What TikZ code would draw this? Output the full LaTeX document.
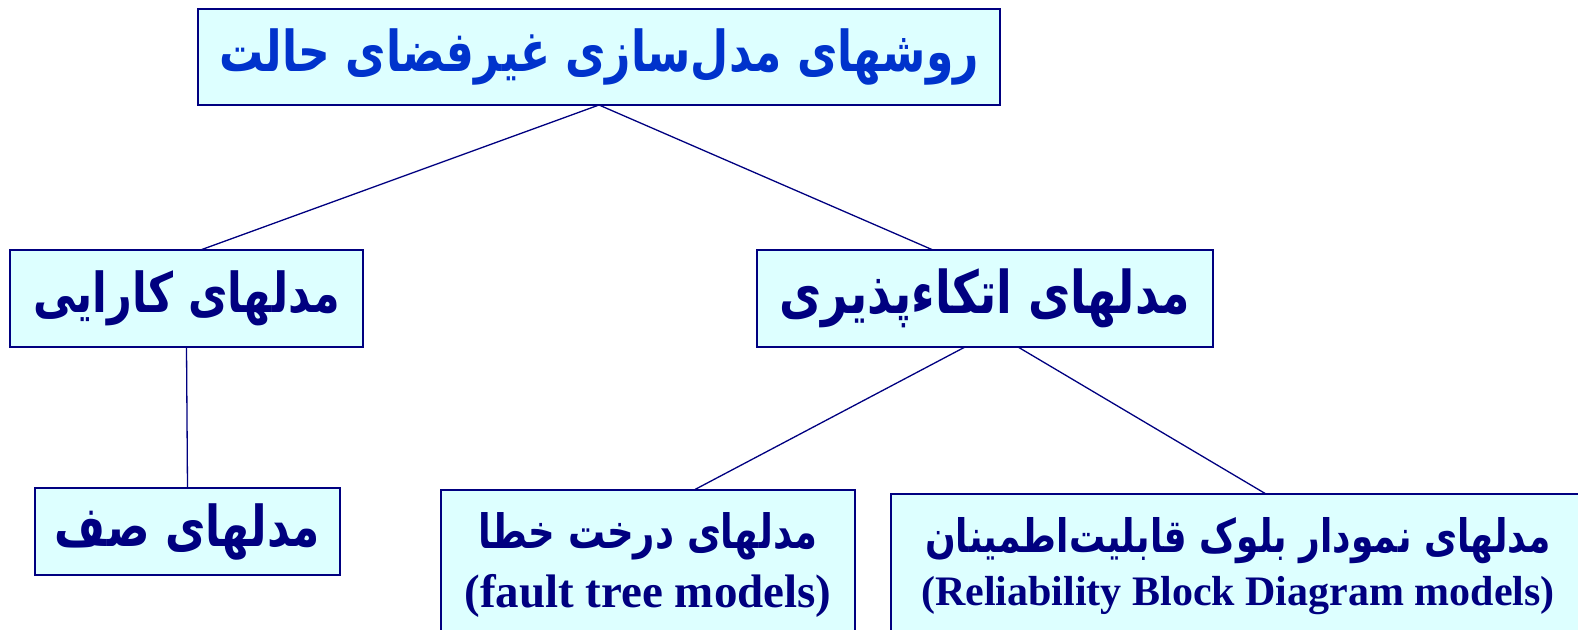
\documentclass[tikz,border=0pt]{standalone}
\usepackage{fontspec}
\usepackage{graphicx}
\setmainfont{Liberation Serif}
\newfontfamily\fa[Script=Arabic]{DejaVu Sans}
\TeXXeTstate=1
\definecolor{navy}{HTML}{000080}
\definecolor{fablue}{HTML}{0033CC}
\definecolor{boxfill}{HTML}{DDFFFF}
\newcommand{\fatxt}[2]{\scalebox{1}[1.28]{\fa\bfseries\fontsize{#1}{#1}\selectfont #2}}
\newcommand{\entxt}[2]{{\bfseries\fontsize{#1}{#1}\selectfont #2}}
\tikzset{
  box/.style={draw=navy, line width=1.8pt, fill=boxfill, inner sep=0pt, outer sep=0pt, align=center, text=navy},
  link/.style={draw=navy, line width=1.3pt},
}
\begin{document}
\begin{tikzpicture}[x=1pt,y=-1pt]
\useasboundingbox (0,0) rectangle (1578,629);
\clip (0,0) rectangle (1578,629);
\node[box, text=fablue, minimum width=802pt, minimum height=96pt] (top) at (599,57) {\fatxt{44}{\beginR روشهای مدل‌سازی غیرفضای حالت\endR}};
\node[box, minimum width=353pt, minimum height=97pt] (perf) at (186.5,298.5) {\fatxt{43}{\beginR مدلهای کارایی\endR}};
\node[box, minimum width=456pt, minimum height=97pt] (dep) at (985,298.5) {\fatxt{46}{\beginR مدلهای اتکاءپذیری\endR}};
\node[box, minimum width=305pt, minimum height=87pt] (queue) at (187.5,531.5) {\fatxt{44}{\beginR مدلهای صف\endR}};
\node[box, minimum width=414pt, minimum height=150pt] (ft) at (648,565) {\fatxt{37}{\beginR مدلهای درخت خطا\endR}\\[14pt]\entxt{47}{(fault tree models)}};
\node[box, minimum width=694pt, minimum height=144pt] (rbd) at (1238,566) {\fatxt{36}{\beginR مدلهای نمودار بلوک قابلیت‌اطمینان\endR}\\[12pt]\entxt{42}{(Reliability Block Diagram models)}};
\draw[link] (top.south) -- ([xshift=14pt]perf.north);
\draw[link] (top.south) -- ([xshift=-52pt]dep.north);
\draw[link] (perf.south) -- (queue.north);
\draw[link] ([xshift=-20pt]dep.south) -- ([xshift=46pt]ft.north);
\draw[link] ([xshift=33pt]dep.south) -- ([xshift=28pt]rbd.north);
\end{tikzpicture}
\end{document}
